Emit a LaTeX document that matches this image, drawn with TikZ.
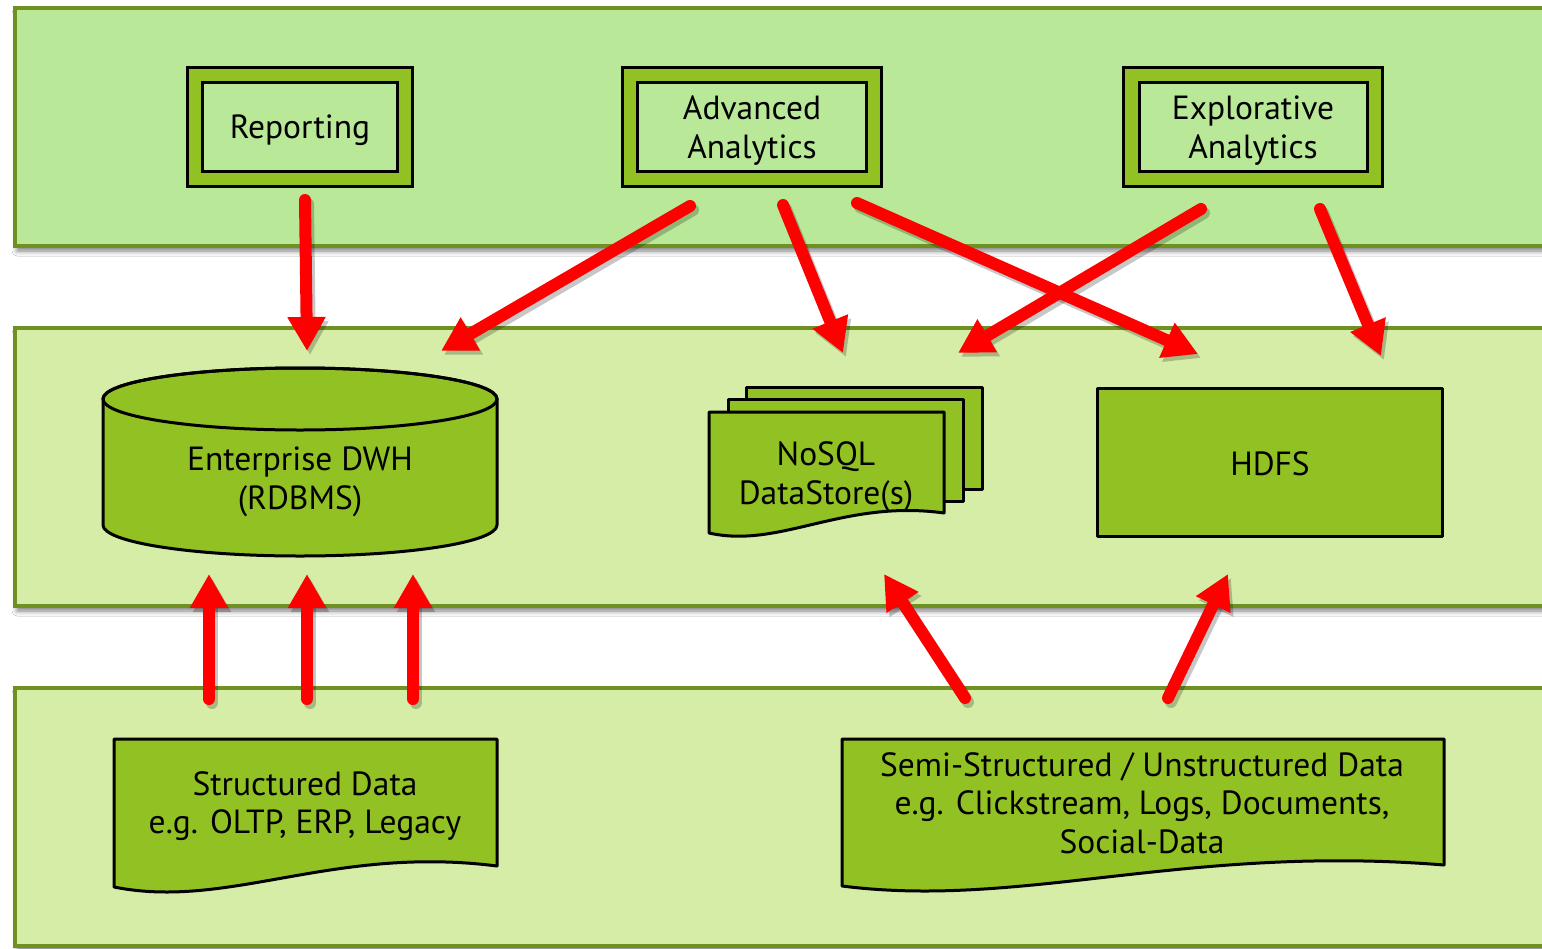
\documentclass[tikz,border=0pt]{standalone}
\usepackage{fontspec}
\setmainfont{PT Sans}
\usetikzlibrary{arrows.meta,shadows.blur}
\definecolor{bandA}{RGB}{185,233,152}
\definecolor{bandB}{RGB}{214,237,168}
\definecolor{bandline}{RGB}{111,145,33}
\definecolor{leaf}{RGB}{146,193,35}
\begin{document}
\begin{tikzpicture}[x=1pt,y=-1pt,
  band/.style={draw=bandline, line width=3.5pt,
    blur shadow={shadow xshift=2pt, shadow yshift=-5pt, shadow blur radius=5pt, shadow opacity=50}},
  txt/.style={font=\fontsize{33.5}{38.5}\selectfont, align=center, text=black, inner sep=0pt},
  outerbox/.style={draw=black, line width=3pt, fill=leaf, minimum height=119pt, inner sep=0pt},
  innerbox/.style={draw=black, line width=3pt, fill=bandA, minimum height=89pt, inner sep=0pt},
  leafshape/.style={draw=black, line width=3pt, fill=leaf, line join=round},
  flow/.style={draw=red, line width=12pt, line cap=round, -{Triangle[width=36pt,length=34pt]}},
  flowshade/.style={flow, draw=black, opacity=0.22, transform canvas={shift={(3pt,-4pt)}}}
]
\useasboundingbox (0,0) rectangle (1542,948);
\fill[white] (0,0) rectangle (1542,948);

% three layers
\path[band, fill=bandA] (15,8) rectangle (1560,246);
\path[band, fill=bandB] (15,328) rectangle (1560,606);
\path[band, fill=bandB] (15,688) rectangle (1560,946);

% consumers: framed boxes with captions
\node[outerbox, minimum width=225pt] (rep) at (300,127) {};
\node[innerbox, minimum width=195pt] (repin) at (300,127) {};
\node[txt] (replbl) at (300,130) {Reporting};
\node[outerbox, minimum width=259pt] (adv) at (752,127) {};
\node[innerbox, minimum width=229pt] (advin) at (752,127) {};
\node[txt] (advlbl) at (752,130.5) {Advanced\\Analytics};
\node[outerbox, minimum width=259pt] (exp) at (1253,127) {};
\node[innerbox, minimum width=228pt] (expin) at (1253,127) {};
\node[txt] (explbl) at (1253,130.5) {Explorative\\Analytics};

% enterprise data warehouse cylinder
\path[leafshape] (103,399) -- (103,525) arc[start angle=180, end angle=0, x radius=197, y radius=31]
  -- (497,399) arc[start angle=0, end angle=-180, x radius=197, y radius=31] -- cycle;
\draw[black, line width=3pt] (300,399) ellipse[x radius=197, y radius=31];
\node[txt] (dwh) at (300,482) {Enterprise DWH\\(RDBMS)};

% NoSQL stack of documents
\path[leafshape] (746,387) rectangle (982,489);
\path[leafshape] (728,399) rectangle (963,501);
\path[leafshape] (709,412) -- (944,412) -- (944,513) .. controls (843,499) and (780,549) .. (709,533) -- cycle;
\node[txt] (nosql) at (826,477) {NoSQL\\DataStore(s)};

% HDFS
\node[leafshape, minimum width=345pt, minimum height=148pt, inner sep=0pt] (hdfs) at (1270,462.5) {};
\node[txt] (hdfslbl) at (1270,464) {HDFS};

% sources
\path[leafshape] (114,739) -- (497,739) -- (497,866) .. controls (332,845) and (229,910) .. (114,887) -- cycle;
\node[txt] (sdata) at (305,806) {Structured Data\\e.g. OLTP, ERP, Legacy};
\path[leafshape] (842,739) -- (1444,739) -- (1444,865) .. controls (1185,844) and (1023,909) .. (842,886) -- cycle;
\node[txt] (udata) at (1142,803) {Semi-Structured / Unstructured Data\\e.g. Clickstream, Logs, Documents,\\Social-Data};

% connector end points
\coordinate (r0) at (305,200);  \coordinate (r1) at (307,351);
\coordinate (a0) at (690,206);  \coordinate (a1) at (441,351);
\coordinate (b0) at (783,205);  \coordinate (b1) at (843,353);
\coordinate (c0) at (857,203);  \coordinate (c1) at (1198,354);
\coordinate (d0) at (1201,209); \coordinate (d1) at (958,353);
\coordinate (e0) at (1320,209); \coordinate (e1) at (1381,356);
\coordinate (s1) at (209,699);  \coordinate (s1t) at (209,574);
\coordinate (s2) at (307,699);  \coordinate (s2t) at (307,574);
\coordinate (s3) at (413,699);  \coordinate (s3t) at (413,574);
\coordinate (u1) at (965,698);  \coordinate (u1t) at (884,574);
\coordinate (u2) at (1168,698); \coordinate (u2t) at (1228,574);

\foreach \p/\q in {r0/r1,a0/a1,b0/b1,c0/c1,d0/d1,e0/e1,s1/s1t,s2/s2t,s3/s3t,u1/u1t,u2/u2t}
  \draw[flowshade] (\p) -- (\q);
\foreach \p/\q in {r0/r1,a0/a1,b0/b1,c0/c1,d0/d1,e0/e1,s1/s1t,s2/s2t,s3/s3t,u1/u1t,u2/u2t}
  \draw[flow] (\p) -- (\q);
\end{tikzpicture}
\end{document}
